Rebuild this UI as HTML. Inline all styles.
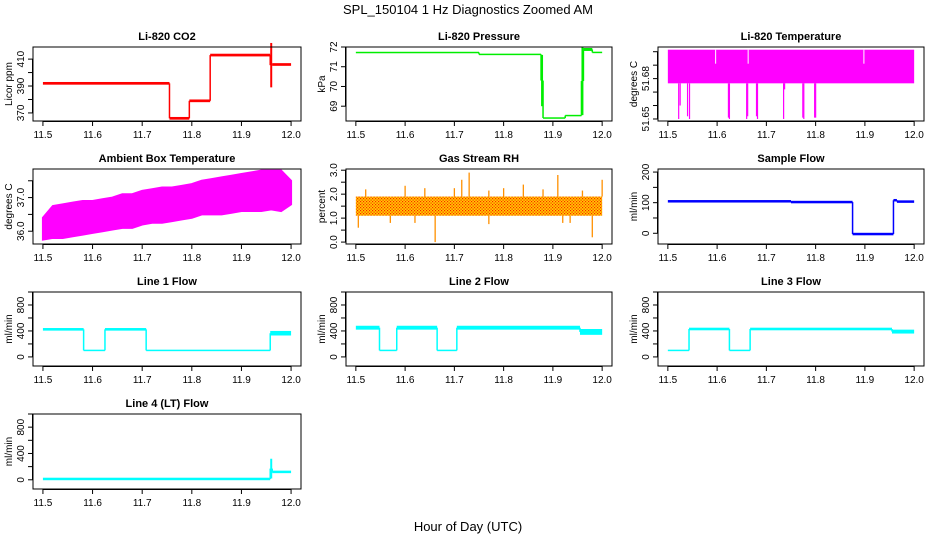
<!DOCTYPE html>
<html><head><meta charset="utf-8"><style>
html,body{margin:0;padding:0;background:#fff;}
svg{display:block;font-family:"Liberation Sans",Arial,sans-serif;}
</style></head><body>
<svg id="c" width="936" height="540" viewBox="0 0 936 540" xmlns="http://www.w3.org/2000/svg">
<defs>
<pattern id="rhpat" width="3" height="3" patternUnits="userSpaceOnUse">
<rect width="3" height="3" fill="#ffd000"/><rect x="0" y="0" width="1.2" height="1.2" fill="#ff2000"/><rect x="1.5" y="1.5" width="1.2" height="1.2" fill="#ff2000"/>
</pattern>
</defs>
<text x="468" y="14" text-anchor="middle" font-size="13">SPL_150104  1 Hz Diagnostics Zoomed AM</text>
<text x="468" y="531" text-anchor="middle" font-size="13">Hour of Day (UTC)</text>
</svg>
<script>
// ---- data ----
const xTicks = [11.5, 11.6, 11.7, 11.8, 11.9, 12.0];
const xTickLabels = ["11.5", "11.6", "11.7", "11.8", "11.9", "12.0"];
// step segments: start, end, low, high
const co2Start = [11.5, 11.755, 11.795, 11.837, 11.958, 11.962];
const co2End   = [11.755, 11.795, 11.837, 11.958, 11.962, 12.0];
const co2Low   = [391, 365, 378, 412, 389, 405];
const co2High  = [393, 367, 380, 414, 422, 407];
const presStart = [11.5, 11.75, 11.876, 11.88, 11.925, 11.958, 11.962, 11.98];
const presEnd   = [11.75, 11.876, 11.88, 11.925, 11.958, 11.962, 11.98, 12.0];
const presLow   = [71.70, 71.60, 69.0, 68.38, 68.50, 68.55, 71.80, 71.70];
const presHigh  = [71.74, 71.65, 71.6, 68.42, 68.55, 72.0, 71.95, 71.75];
const tempBandLow = 51.6765, tempBandHigh = 51.7015;
const tempSpikeX = [11.522, 11.525, 11.540, 11.544, 11.623, 11.625, 11.660, 11.662, 11.680, 11.682, 11.735, 11.737, 11.774, 11.776, 11.798, 11.800];
const tempSpikeY = [51.650, 51.660, 51.652, 51.650, 51.651, 51.650, 51.650, 51.652, 51.652, 51.650, 51.650, 51.672, 51.651, 51.650, 51.651, 51.651];
const tempGapX = [11.597, 11.663, 11.898];
const ambX  = [11.5,11.52,11.54,11.56,11.58,11.6,11.62,11.64,11.66,11.68,11.7,11.72,11.74,11.76,11.78,11.8,11.82,11.84,11.86,11.88,11.9,11.92,11.94,11.96,11.98,12.0];
const ambLo = [35.75,35.8,35.8,35.85,35.9,35.95,36.0,36.05,36.1,36.1,36.2,36.25,36.25,36.3,36.35,36.4,36.5,36.5,36.5,36.55,36.6,36.6,36.6,36.65,36.6,36.8];
const ambHi = [36.4,36.75,36.8,36.85,36.9,36.9,36.95,37.0,37.1,37.1,37.2,37.25,37.3,37.3,37.35,37.4,37.5,37.55,37.6,37.65,37.7,37.75,37.8,37.8,37.8,37.5];
const rhBandLow = 1.1, rhBandHigh = 1.9;
const rhUpX = [11.52, 11.6, 11.64, 11.70, 11.715, 11.73, 11.77, 11.80, 11.84, 11.88, 11.91, 11.96, 12.0];
const rhUpY = [2.2, 2.35, 2.25, 2.25, 2.6, 2.9, 2.15, 2.25, 2.4, 2.2, 2.8, 2.15, 2.6];
const rhDnX = [11.505, 11.57, 11.62, 11.661, 11.77, 11.92, 11.935, 11.98];
const rhDnY = [0.6, 0.8, 0.8, 0.0, 0.75, 0.8, 0.8, 0.2];
const sfStart = [11.5, 11.75, 11.875, 11.958, 11.965];
const sfEnd   = [11.75, 11.875, 11.958, 11.965, 12.0];
const sfLow   = [103, 100, -4, 106, 102];
const sfHigh  = [106, 104, -1, 110, 105];
const l1Start = [11.5, 11.582, 11.625, 11.708, 11.958];
const l1End   = [11.582, 11.625, 11.708, 11.958, 12.0];
const l1Low   = [405, 95, 405, 95, 330];
const l1High  = [445, 105, 445, 105, 400];
const l2Start = [11.5, 11.548, 11.583, 11.665, 11.705, 11.955];
const l2End   = [11.548, 11.583, 11.665, 11.705, 11.955, 12.0];
const l2Low   = [420, 95, 420, 95, 420, 340];
const l2High  = [480, 105, 480, 105, 480, 430];
const l3Start = [11.5, 11.543, 11.625, 11.667, 11.955];
const l3End   = [11.543, 11.625, 11.667, 11.955, 12.0];
const l3Low   = [95, 410, 95, 410, 360];
const l3High  = [105, 450, 105, 450, 420];
const l4Start = [11.5, 11.958, 11.962];
const l4End   = [11.958, 11.962, 12.0];
const l4Low   = [5, 20, 115];
const l4High  = [20, 320, 125];

// ---- layout ----
const svg = document.getElementById('c');
const NS = 'http://www.w3.org/2000/svg';
const cols = [[33, 301], [346, 612], [658, 924]];
const rows = [[47, 121], [169, 244], [292, 366], [414, 489]];
function mk(tag, at, parent) { const e = document.createElementNS(NS, tag); for (const k in at) e.setAttribute(k, at[k]); (parent || svg).appendChild(e); return e; }

function panel(cfg) {
  const [x0, x1] = cols[cfg.col], [y0, y1] = rows[cfg.row];
  const g = mk('g', {});
  
  
  const pad = (x1 - x0) * 0.5 / 13.5;
  const sx = v => x0 + pad + (v - 11.5) / 0.5 * (x1 - x0 - 2 * pad);
  const sy = v => y1 - (v - cfg.ymin) / (cfg.ymax - cfg.ymin) * (y1 - y0);
  const t = mk('text', { x: (x0 + x1) / 2, y: y0 - 7, 'text-anchor': 'middle', 'font-size': 11, 'font-weight': 'bold' }, g);
  t.textContent = cfg.title;
  
  
  const data = mk('g', {}, g);
  
  
  cfg.draw(data, sx, sy);
  const box = mk('rect', { x: x0, y: y0, width: x1 - x0, height: y1 - y0, fill: 'none', stroke: '#000', 'stroke-width': 1 }, g);
  
  
  // x axis
  const xa = mk('g', {}, g);
  
  
  mk('line', { x1: sx(11.5), x2: sx(12.0), y1: y1 + 0.5, y2: y1 + 0.5, stroke: '#000' }, xa);
  xTicks.forEach((v, i) => {
    mk('line', { x1: sx(v), x2: sx(v), y1: y1, y2: y1 + 5, stroke: '#000' }, xa);
    const tl = mk('text', { x: sx(v), y: y1 + 17, 'text-anchor': 'middle', 'font-size': 10 }, xa);
    tl.textContent = xTickLabels[i];
  });
  // y axis
  const ya = mk('g', {}, g);
  
  
  cfg.ticks.forEach(v => {
    mk('line', { x1: x0 - 5, x2: x0, y1: sy(v), y2: sy(v), stroke: '#000' }, ya);
  });
  mk('line', { x1: x0 - 0.5, x2: x0 - 0.5, y1: sy(cfg.ticks[0]), y2: sy(cfg.ticks[cfg.ticks.length - 1]), stroke: '#000' }, ya);
  cfg.labels.forEach(v => {
    const tl = mk('text', { x: 0, y: 0, 'text-anchor': 'middle', 'font-size': 10, transform: `translate(${x0 - 9},${sy(v)}) rotate(-90)` }, ya);
    tl.textContent = cfg.fmt(v);
  });
  const yt = mk('text', { x: 0, y: 0, 'text-anchor': 'middle', 'font-size': 10, transform: `translate(${x0 - 21},${(y0 + y1) / 2}) rotate(-90)` }, g);
  yt.textContent = cfg.ylab;
  
  
}

function steps(color, st, en, lo, hi, lw) {
  return function (g, sx, sy) {
    for (let i = 0; i < st.length; i++) {
      const yh = sy(hi[i]), yl = sy(lo[i]);
      const h = Math.max(yl - yh, lw);
      mk('rect', { x: sx(st[i]), y: (yh + yl) / 2 - h / 2, width: Math.max(sx(en[i]) - sx(st[i]), 1.5), height: h, fill: color }, g);
      if (i > 0) {
        const a = (sy(lo[i - 1]) + sy(hi[i - 1])) / 2, b = (yl + yh) / 2;
        mk('line', { x1: sx(st[i]), x2: sx(st[i]), y1: a, y2: b, stroke: color, 'stroke-width': 1.5 }, g);
      }
    }
  };
}
const f0 = v => String(v), f1 = v => v.toFixed(1), f2 = v => v.toFixed(2);
const range = (a, b, s) => { const r = []; for (let v = a; v <= b + 1e-9; v += s) r.push(+v.toFixed(4)); return r; };
const flowTicks = range(0, 1000, 200);

panel({ name: 'co2', col: 0, row: 0, title: 'Li-820 CO2', ylab: 'Licor ppm', ymin: 364, ymax: 419, ticks: range(370, 410, 10).concat([]), labels: [370, 390, 410], fmt: f0,
  draw: steps('#ff0000', co2Start, co2End, co2Low, co2High, 2.5) });
panel({ name: 'pressure', col: 1, row: 0, title: 'Li-820 Pressure', ylab: 'kPa', ymin: 68.25, ymax: 72.0, ticks: [69, 70, 71, 72], labels: [69, 70, 71, 72], fmt: f0,
  draw: steps('#00ee00', presStart, presEnd, presLow, presHigh, 1.5) });
panel({ name: 'li820-temperature', col: 2, row: 0, title: 'Li-820 Temperature', ylab: 'degrees C', ymin: 51.6485, ymax: 51.7035, ticks: range(51.65, 51.70, 0.01), labels: [51.65, 51.68], fmt: f2,
  draw: function (g, sx, sy) {
    mk('rect', { x: sx(11.5), y: sy(tempBandHigh), width: sx(12.0) - sx(11.5), height: sy(tempBandLow) - sy(tempBandHigh), fill: '#ff00ff' }, g);
    tempGapX.forEach(x => mk('line', { x1: sx(x), x2: sx(x), y1: sy(tempBandHigh), y2: sy(tempBandHigh) + 14, stroke: '#fff', 'stroke-width': 1 }, g));
    tempSpikeX.forEach((x, i) => mk('line', { x1: sx(x), x2: sx(x), y1: sy(tempBandLow), y2: sy(tempSpikeY[i]), stroke: '#ff00ff', 'stroke-width': 1.2 }, g));
  } });
panel({ name: 'ambient-temperature', col: 0, row: 1, title: 'Ambient Box Temperature', ylab: 'degrees C', ymin: 35.62, ymax: 37.85, ticks: [36.0, 36.5, 37.0, 37.5], labels: [36.0, 37.0], fmt: f1,
  draw: function (g, sx, sy) {
    let d = ambX.map((x, i) => (i ? 'L' : 'M') + sx(x) + ',' + sy(ambHi[i])).join('');
    for (let i = ambX.length - 1; i >= 0; i--) d += 'L' + sx(ambX[i]) + ',' + sy(ambLo[i]);
    mk('path', { d: d + 'Z', fill: '#ff00ff', stroke: '#ff00ff', 'stroke-width': 2 }, g);
  } });
panel({ name: 'gas-stream-rh', col: 1, row: 1, title: 'Gas Stream RH', ylab: 'percent', ymin: -0.08, ymax: 3.05, ticks: range(0, 3, 0.5), labels: [0, 1, 2, 3], fmt: f1,
  draw: function (g, sx, sy) {
    mk('rect', { x: sx(11.5), y: sy(rhBandHigh), width: sx(12.0) - sx(11.5), height: sy(rhBandLow) - sy(rhBandHigh), fill: 'url(#rhpat)' }, g);
    rhUpX.forEach((x, i) => mk('line', { x1: sx(x), x2: sx(x), y1: sy(rhBandHigh), y2: sy(rhUpY[i]), stroke: '#ff9000', 'stroke-width': 1.3 }, g));
    rhDnX.forEach((x, i) => mk('line', { x1: sx(x), x2: sx(x), y1: sy(rhBandLow), y2: sy(rhDnY[i]), stroke: '#ff9000', 'stroke-width': 1.3 }, g));
  } });
panel({ name: 'sample-flow', col: 2, row: 1, title: 'Sample Flow', ylab: 'ml/min', ymin: -35, ymax: 210, ticks: range(0, 200, 50), labels: [0, 100, 200], fmt: f0,
  draw: steps('#0000ff', sfStart, sfEnd, sfLow, sfHigh, 2.5) });
panel({ name: 'line1-flow', col: 0, row: 2, title: 'Line 1 Flow', ylab: 'ml/min', ymin: -140, ymax: 1000, ticks: flowTicks, labels: [0, 400, 800], fmt: f0,
  draw: steps('#00ffff', l1Start, l1End, l1Low, l1High, 1.5) });
panel({ name: 'line2-flow', col: 1, row: 2, title: 'Line 2 Flow', ylab: 'ml/min', ymin: -140, ymax: 1000, ticks: flowTicks, labels: [0, 400, 800], fmt: f0,
  draw: steps('#00ffff', l2Start, l2End, l2Low, l2High, 1.5) });
panel({ name: 'line3-flow', col: 2, row: 2, title: 'Line 3 Flow', ylab: 'ml/min', ymin: -140, ymax: 1000, ticks: flowTicks, labels: [0, 400, 800], fmt: f0,
  draw: steps('#00ffff', l3Start, l3End, l3Low, l3High, 1.5) });
panel({ name: 'line4-flow', col: 0, row: 3, title: 'Line 4 (LT) Flow', ylab: 'ml/min', ymin: -140, ymax: 1000, ticks: flowTicks, labels: [0, 400, 800], fmt: f0,
  draw: steps('#00ffff', l4Start, l4End, l4Low, l4High, 2.5) });
</script>
</body></html>
